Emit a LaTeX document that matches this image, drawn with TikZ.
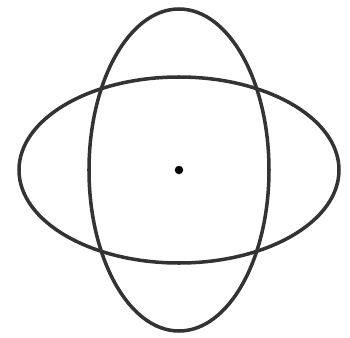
\documentclass[tikz,border=0pt]{standalone}
\usepackage{xcolor}
\usepackage{tikz}
\usetikzlibrary{arrows.meta,shapes}

\begin{document}
\begin{tikzpicture}[=>stealth]
\useasboundingbox(0,0)rectangle(7,6.74);
\draw(3.58,3.34)node(centre)[shape=circle,fill=black,inner sep=0pt,minimum size=0.17cm]{};
\draw[line width=2pt,black!80](centre)ellipse[x radius=3.2cm, y radius=1.86cm];
\draw[line width=2pt,black!80](centre)ellipse[x radius=1.8cm, y radius=3.22cm];
\end{tikzpicture}
\end{document}
